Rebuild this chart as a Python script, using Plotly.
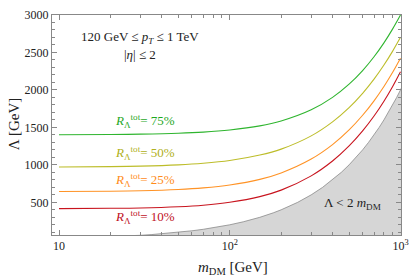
import plotly.graph_objects as go

# ---- data ----
m_dm = [10, 20, 30, 50, 70, 100, 150, 200, 300, 400, 500, 600, 700, 800, 900, 1000]
lam_75 = [1402, 1405, 1410, 1422, 1437, 1465, 1520, 1586, 1735, 1901, 2077, 2259, 2443, 2628, 2815, 3000]
lam_50 = [972, 976, 983, 1000, 1021, 1058, 1131, 1210, 1387, 1574, 1764, 1955, 2144, 2332, 2518, 2702]
lam_25 = [644, 648, 655, 672, 693, 731, 806, 892, 1077, 1270, 1466, 1662, 1855, 2046, 2235, 2422]
lam_10 = [416, 420, 425, 441, 461, 500, 576, 663, 853, 1051, 1252, 1453, 1652, 1850, 2047, 2243]

series_names = ["75%", "50%", "25%", "10%"]
series_vals = [lam_75, lam_50, lam_25, lam_10]
line_colors = ["#2fb52f", "#bdbd2a", "#ff9326", "#c8141e"]
text_colors = ["#1fa81f", "#b0b020", "#ff8c1a", "#c0101e"]
label_y = [1590, 1160, 800, 305]

# excluded region boundary Lambda = 2 m_DM
m_grid = [9, 20, 25, 30, 35, 40, 45, 50, 60, 70, 80, 100, 120, 150, 180, 200, 250, 300, 350, 400,
          450, 500, 550, 600, 650, 700, 750, 800, 850, 900, 950, 1000, 1050]
lam_excl = [2 * m for m in m_grid]

x_tickvals = [10, 100, 1000]
x_ticktext = ["10", "10<sup>2</sup>", "10<sup>3</sup>"]
x_minor = [k * 10 for k in range(1, 10)] + [k * 100 for k in range(1, 10)] + [9]
y_tickvals = [500, 1000, 1500, 2000, 2500, 3000]

FONT = "Liberation Serif, DejaVu Serif, serif"

fig = go.Figure()

fig.add_trace(go.Scatter(
    x=m_grid, y=lam_excl, mode="lines", fill="tozeroy",
    fillcolor="#d6d6d6", line=dict(color="#8a8a8a", width=0.8),
    hoverinfo="skip", showlegend=False))

for vals, col in zip(series_vals, line_colors):
    fig.add_trace(go.Scatter(
        x=m_dm, y=vals, mode="lines", line=dict(color=col, width=1.1, shape="spline"),
        showlegend=False))

for name, ly, tc in zip(series_names, label_y, text_colors):
    fig.add_annotation(
        x=1.503, y=ly, xref="x", yref="y", showarrow=False,
        xanchor="center", yanchor="middle",
        text="<i>R</i><sub>Λ</sub><sup>tot</sup>= " + name,
        font=dict(family=FONT, size=13, color=tc))

def note(x, y, text, size=13, angle=0):
    fig.add_annotation(x=x, y=y, xref="paper", yref="paper", showarrow=False,
                       xanchor="center", yanchor="middle", textangle=angle,
                       text=text, font=dict(family=FONT, size=size, color="#222"))

note(0.252, 0.897, "120 GeV ≤ <i>p</i><sub><i>T</i></sub> ≤ 1 TeV")
note(0.252, 0.820, "|<i>η</i>| ≤ 2")
note(0.862, 0.145, "Λ < 2 <i>m</i><sub>DM</sub>")

# axis titles
note(-0.108, 0.505, "Λ [GeV]", size=15, angle=-90)
note(0.52, -0.148, "<i>m</i><sub>DM</sub> [GeV]", size=15)

fig.update_xaxes(
    type="log", range=[0.959, 3.003],
    tickmode="array", tickvals=x_tickvals, ticktext=x_ticktext,
    ticks="inside", ticklen=5, tickcolor="#888", tickwidth=1,
    minor=dict(tickmode="array", tickvals=x_minor, ticks="inside", ticklen=3, tickcolor="#888", tickwidth=1),
    showline=True, linecolor="#888", linewidth=1, mirror="allticks",
    showgrid=False, zeroline=False,
    tickfont=dict(family=FONT, size=12, color="#222"))
fig.update_yaxes(
    range=[64, 3000],
    tickmode="array", tickvals=y_tickvals,
    ticks="inside", ticklen=5, tickcolor="#888", tickwidth=1,
    minor=dict(dtick=100, tick0=0, ticks="inside", ticklen=3, tickcolor="#888", tickwidth=1),
    showline=True, linecolor="#888", linewidth=1, mirror="allticks",
    showgrid=False, zeroline=False,
    tickfont=dict(family=FONT, size=12, color="#222"))

fig.update_layout(
    width=409, height=279,
    margin=dict(l=52, r=8, t=15, b=44, autoexpand=False),
    paper_bgcolor="white", plot_bgcolor="white",
    font=dict(family=FONT),
    showlegend=False)

fig.write_html("out.html", config={"displayModeBar": False},
               post_script="document.body.style.margin='0';document.body.style.padding='0';")
